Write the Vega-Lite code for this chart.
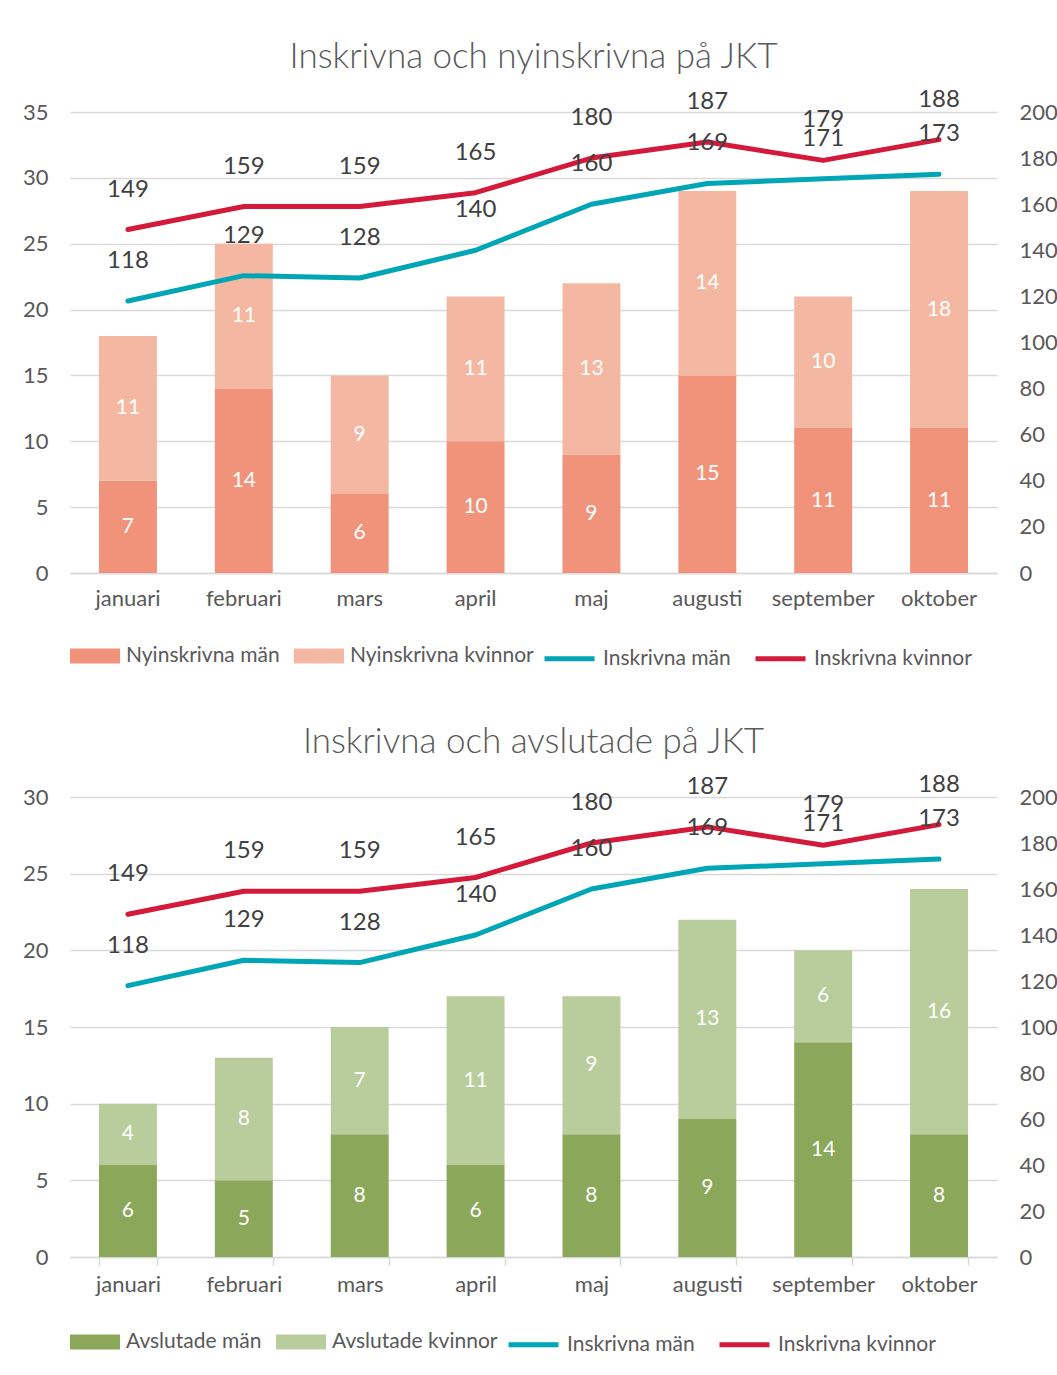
{
  "$schema": "https://vega.github.io/schema/vega-lite/v6.json",
  "padding": {"left": 22, "top": 39, "right": 5, "bottom": 5},
  "background": "white",
  "config": {
    "font": "Lato",
    "view": {"stroke": null},
    "axis": {"labelFont": "Lato", "labelColor": "#595959", "labelFontSize": 22, "domain": false, "ticks": false, "grid": false, "title": null},
    "title": {"font": "Lato", "fontSize": 35, "fontWeight": 300, "color": "#595959", "anchor": "middle", "offset": 13},
    "legend": {"orient": "bottom", "direction": "horizontal", "title": null, "labelFont": "Lato", "labelFontSize": 21, "labelColor": "#595959", "labelLimit": 400, "labelOffset": 6, "columnPadding": 14, "offset": 22, "symbolSize": 2500}
  },
  "datasets": {
    "nyin": [
      {"månad": "januari", "serie": "Nyinskrivna män", "antal": 7, "ord": 1},
      {"månad": "februari", "serie": "Nyinskrivna män", "antal": 14, "ord": 1},
      {"månad": "mars", "serie": "Nyinskrivna män", "antal": 6, "ord": 1},
      {"månad": "april", "serie": "Nyinskrivna män", "antal": 10, "ord": 1},
      {"månad": "maj", "serie": "Nyinskrivna män", "antal": 9, "ord": 1},
      {"månad": "augusti", "serie": "Nyinskrivna män", "antal": 15, "ord": 1},
      {"månad": "september", "serie": "Nyinskrivna män", "antal": 11, "ord": 1},
      {"månad": "oktober", "serie": "Nyinskrivna män", "antal": 11, "ord": 1},
      {"månad": "januari", "serie": "Nyinskrivna kvinnor", "antal": 11, "ord": 2},
      {"månad": "februari", "serie": "Nyinskrivna kvinnor", "antal": 11, "ord": 2},
      {"månad": "mars", "serie": "Nyinskrivna kvinnor", "antal": 9, "ord": 2},
      {"månad": "april", "serie": "Nyinskrivna kvinnor", "antal": 11, "ord": 2},
      {"månad": "maj", "serie": "Nyinskrivna kvinnor", "antal": 13, "ord": 2},
      {"månad": "augusti", "serie": "Nyinskrivna kvinnor", "antal": 14, "ord": 2},
      {"månad": "september", "serie": "Nyinskrivna kvinnor", "antal": 10, "ord": 2},
      {"månad": "oktober", "serie": "Nyinskrivna kvinnor", "antal": 18, "ord": 2}
    ],
    "avsl": [
      {"månad": "januari", "serie": "Avslutade män", "antal": 6, "ord": 1},
      {"månad": "februari", "serie": "Avslutade män", "antal": 5, "ord": 1},
      {"månad": "mars", "serie": "Avslutade män", "antal": 8, "ord": 1},
      {"månad": "april", "serie": "Avslutade män", "antal": 6, "ord": 1},
      {"månad": "maj", "serie": "Avslutade män", "antal": 8, "ord": 1},
      {"månad": "augusti", "serie": "Avslutade män", "antal": 9, "ord": 1},
      {"månad": "september", "serie": "Avslutade män", "antal": 14, "ord": 1},
      {"månad": "oktober", "serie": "Avslutade män", "antal": 8, "ord": 1},
      {"månad": "januari", "serie": "Avslutade kvinnor", "antal": 4, "ord": 2},
      {"månad": "februari", "serie": "Avslutade kvinnor", "antal": 8, "ord": 2},
      {"månad": "mars", "serie": "Avslutade kvinnor", "antal": 7, "ord": 2},
      {"månad": "april", "serie": "Avslutade kvinnor", "antal": 11, "ord": 2},
      {"månad": "maj", "serie": "Avslutade kvinnor", "antal": 9, "ord": 2},
      {"månad": "augusti", "serie": "Avslutade kvinnor", "antal": 13, "ord": 2},
      {"månad": "september", "serie": "Avslutade kvinnor", "antal": 6, "ord": 2},
      {"månad": "oktober", "serie": "Avslutade kvinnor", "antal": 16, "ord": 2}
    ],
    "insk": [
      {"månad": "januari", "serie": "Inskrivna män", "antal": 118},
      {"månad": "februari", "serie": "Inskrivna män", "antal": 129},
      {"månad": "mars", "serie": "Inskrivna män", "antal": 128},
      {"månad": "april", "serie": "Inskrivna män", "antal": 140},
      {"månad": "maj", "serie": "Inskrivna män", "antal": 160},
      {"månad": "augusti", "serie": "Inskrivna män", "antal": 169},
      {"månad": "september", "serie": "Inskrivna män", "antal": 171},
      {"månad": "oktober", "serie": "Inskrivna män", "antal": 173},
      {"månad": "januari", "serie": "Inskrivna kvinnor", "antal": 149},
      {"månad": "februari", "serie": "Inskrivna kvinnor", "antal": 159},
      {"månad": "mars", "serie": "Inskrivna kvinnor", "antal": 159},
      {"månad": "april", "serie": "Inskrivna kvinnor", "antal": 165},
      {"månad": "maj", "serie": "Inskrivna kvinnor", "antal": 180},
      {"månad": "augusti", "serie": "Inskrivna kvinnor", "antal": 187},
      {"månad": "september", "serie": "Inskrivna kvinnor", "antal": 179},
      {"månad": "oktober", "serie": "Inskrivna kvinnor", "antal": 188}
    ]
  },
  "spacing": 55,
  "resolve": {"scale": {"color": "independent", "stroke": "independent"}, "legend": {"color": "independent", "stroke": "independent"}},
  "vconcat": [
    {
      "title": {"text": "Inskrivna och nyinskrivna på JKT"},
      "width": 927,
      "height": 461,
      "resolve": {"scale": {"y": "independent"}},
      "layer": [
        {
          "data": {"name": "nyin"},
          "mark": {"type": "bar"},
          "encoding": {
            "x": {"field": "månad", "type": "nominal", "sort": ["januari","februari","mars","april","maj","augusti","september","oktober"], "scale": {"paddingInner": 0.5, "paddingOuter": 0.25}, "axis": {"labelAngle": 0, "domain": true, "domainColor": "#d9d9d9", "domainWidth": 1.5, "labelPadding": 15}},
            "y": {"field": "antal", "type": "quantitative", "stack": "zero", "scale": {"domain": [0, 35], "nice": false}, "axis": {"orient": "left", "values": [0,5,10,15,20,25,30,35], "grid": true, "gridColor": "#d9d9d9", "gridWidth": 1.5, "labelPadding": 22}},
            "color": {"field": "serie", "type": "nominal",
              "scale": {"domain": ["Nyinskrivna män","Nyinskrivna kvinnor"], "range": ["#F1937A","#F4B8A2"]},
              "legend": {"symbolType": "M-1,-0.3H1V0.3H-1Z", "symbolSize": 2500, "symbolStrokeWidth": 0, "symbolOpacity": 1}
            },
            "order": {"field": "ord", "type": "quantitative"}
          }
        },
        {
          "data": {"name": "nyin"},
          "transform": [
            {"stack": "antal", "groupby": ["månad"], "sort": [{"field": "ord"}], "as": ["y0", "y1"]},
            {"calculate": "(datum.y0 + datum.y1) / 2", "as": "mitt"}
          ],
          "mark": {"type": "text", "color": "white", "fontSize": 21, "baseline": "middle"},
          "encoding": {
            "x": {"field": "månad", "type": "nominal", "sort": ["januari","februari","mars","april","maj","augusti","september","oktober"]},
            "y": {"field": "mitt", "type": "quantitative", "scale": {"domain": [0, 35], "nice": false}, "axis": null},
            "text": {"field": "antal", "type": "quantitative"}
          }
        },
        {
          "data": {"name": "insk"},
          "mark": {"type": "line", "strokeWidth": 5, "strokeCap": "round", "strokeJoin": "round"},
          "encoding": {
            "x": {"field": "månad", "type": "nominal", "sort": ["januari","februari","mars","april","maj","augusti","september","oktober"]},
            "y": {"field": "antal", "type": "quantitative", "scale": {"domain": [0, 200], "nice": false}, "axis": {"orient": "right", "values": [0,20,40,60,80,100,120,140,160,180,200], "labelPadding": 22}},
            "stroke": {"field": "serie", "type": "nominal",
              "scale": {"domain": ["Inskrivna män","Inskrivna kvinnor"], "range": ["#00A6B5","#D41A3B"]},
              "legend": {"symbolType": "stroke", "symbolSize": 2500, "symbolStrokeWidth": 5}
            }
          }
        },
        {
          "data": {"name": "insk"},
          "mark": {"type": "text", "dy": -40, "fontSize": 24, "color": "#404040", "baseline": "middle"},
          "encoding": {
            "x": {"field": "månad", "type": "nominal", "sort": ["januari","februari","mars","april","maj","augusti","september","oktober"]},
            "y": {"field": "antal", "type": "quantitative", "scale": {"domain": [0, 200], "nice": false}, "axis": null},
            "text": {"field": "antal", "type": "quantitative"}
          }
        }
      ]
    },
    {
      "title": {"text": "Inskrivna och avslutade på JKT"},
      "width": 927,
      "height": 460,
      "resolve": {"scale": {"y": "independent"}},
      "layer": [
        {
          "data": {"name": "avsl"},
          "mark": {"type": "bar"},
          "encoding": {
            "x": {"field": "månad", "type": "nominal", "sort": ["januari","februari","mars","april","maj","augusti","september","oktober"], "scale": {"paddingInner": 0.5, "paddingOuter": 0.25}, "axis": {"labelAngle": 0, "domain": true, "domainColor": "#d9d9d9", "domainWidth": 1.5, "ticks": true, "tickBand": "extent", "tickColor": "#d9d9d9", "tickWidth": 1.5, "tickSize": 8, "labelPadding": 9}},
            "y": {"field": "antal", "type": "quantitative", "stack": "zero", "scale": {"domain": [0, 30], "nice": false}, "axis": {"orient": "left", "values": [0,5,10,15,20,25,30], "grid": true, "gridColor": "#d9d9d9", "gridWidth": 1.5, "labelPadding": 22}},
            "color": {"field": "serie", "type": "nominal",
              "scale": {"domain": ["Avslutade män","Avslutade kvinnor"], "range": ["#8BA75A","#B9CC9C"]},
              "legend": {"symbolType": "M-1,-0.3H1V0.3H-1Z", "symbolSize": 2500, "symbolStrokeWidth": 0, "symbolOpacity": 1}
            },
            "order": {"field": "ord", "type": "quantitative"}
          }
        },
        {
          "data": {"name": "avsl"},
          "transform": [
            {"stack": "antal", "groupby": ["månad"], "sort": [{"field": "ord"}], "as": ["y0", "y1"]},
            {"calculate": "(datum.y0 + datum.y1) / 2", "as": "mitt"}
          ],
          "mark": {"type": "text", "color": "white", "fontSize": 21, "baseline": "middle"},
          "encoding": {
            "x": {"field": "månad", "type": "nominal", "sort": ["januari","februari","mars","april","maj","augusti","september","oktober"]},
            "y": {"field": "mitt", "type": "quantitative", "scale": {"domain": [0, 30], "nice": false}, "axis": null},
            "text": {"field": "antal", "type": "quantitative"}
          }
        },
        {
          "data": {"name": "insk"},
          "mark": {"type": "line", "strokeWidth": 5, "strokeCap": "round", "strokeJoin": "round"},
          "encoding": {
            "x": {"field": "månad", "type": "nominal", "sort": ["januari","februari","mars","april","maj","augusti","september","oktober"]},
            "y": {"field": "antal", "type": "quantitative", "scale": {"domain": [0, 200], "nice": false}, "axis": {"orient": "right", "values": [0,20,40,60,80,100,120,140,160,180,200], "labelPadding": 22}},
            "stroke": {"field": "serie", "type": "nominal",
              "scale": {"domain": ["Inskrivna män","Inskrivna kvinnor"], "range": ["#00A6B5","#D41A3B"]},
              "legend": {"symbolType": "stroke", "symbolSize": 2500, "symbolStrokeWidth": 5}
            }
          }
        },
        {
          "data": {"name": "insk"},
          "mark": {"type": "text", "dy": -40, "fontSize": 24, "color": "#404040", "baseline": "middle"},
          "encoding": {
            "x": {"field": "månad", "type": "nominal", "sort": ["januari","februari","mars","april","maj","augusti","september","oktober"]},
            "y": {"field": "antal", "type": "quantitative", "scale": {"domain": [0, 200], "nice": false}, "axis": null},
            "text": {"field": "antal", "type": "quantitative"}
          }
        }
      ]
    }
  ]
}
